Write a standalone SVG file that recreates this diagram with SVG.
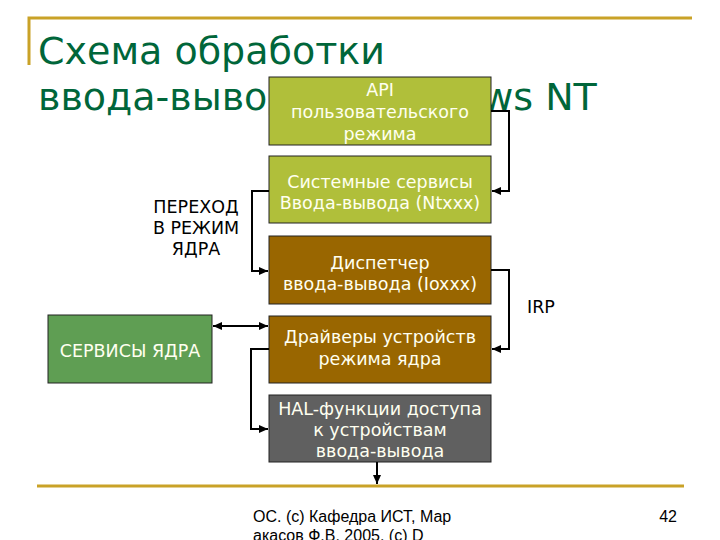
<svg xmlns="http://www.w3.org/2000/svg" width="720" height="540" viewBox="0 0 720 540">
<defs>
<marker id="arr" markerWidth="9" markerHeight="8" refX="9" refY="4" orient="auto" markerUnits="userSpaceOnUse">
<path d="M0,0 L9,4 L0,8 Z" fill="#000"/>
</marker>
<marker id="arrs" markerWidth="9" markerHeight="8" refX="0" refY="4" orient="auto" markerUnits="userSpaceOnUse">
<path d="M9,0 L0,4 L9,8 Z" fill="#000"/>
</marker>
</defs>
<style>
.gold{stroke:#c9a227;stroke-width:3;fill:none}
.title{font-family:"DejaVu Sans",sans-serif;font-size:38px;fill:#00663a}
.box{stroke:#222;stroke-width:1}
.bt{font-family:"DejaVu Sans",sans-serif;font-size:17.5px;fill:#fffff0;text-anchor:middle}
.lbl{font-family:"DejaVu Sans",sans-serif;font-size:17.5px;fill:#000}
.foot{font-family:"Liberation Sans",Arial,sans-serif;font-size:16px;fill:#000}
.con{stroke:#000;stroke-width:2;fill:none}
</style>
<rect width="720" height="540" fill="#fff"/>
<path class="gold" d="M29,65 V18 H692"/>
<line class="gold" x1="37" y1="486" x2="684" y2="486"/>
<text class="title" x="38" y="64">Схема обработки</text>
<text class="title" x="38" y="110">ввода-вывода в Windows NT</text>

<g id="api"><rect class="box" x="269" y="77" width="222" height="68" fill="#b0bf3a"/>
<text class="bt" x="380" y="96">API</text><text class="bt" x="380" y="118">пользовательского</text><text class="bt" x="380" y="140">режима</text></g>
<g id="sys"><rect class="box" x="269" y="156" width="222" height="67" fill="#b0bf3a"/>
<text class="bt" x="380" y="188">Системные сервисы</text><text class="bt" x="380" y="209">Ввода-вывода (Ntxxx)</text></g>
<g id="disp"><rect class="box" x="269" y="236" width="222" height="68" fill="#996600"/>
<text class="bt" x="380" y="269">Диспетчер</text><text class="bt" x="380" y="290">ввода-вывода (Ioxxx)</text></g>
<g id="drv"><rect class="box" x="269" y="316" width="222" height="67" fill="#996600"/>
<text class="bt" x="380" y="343">Драйверы устройств</text><text class="bt" x="380" y="365">режима ядра</text></g>
<g id="hal"><rect class="box" x="269" y="395" width="222" height="67" fill="#606060"/>
<text class="bt" x="380" y="415">HAL-функции доступа</text><text class="bt" x="380" y="436">к устройствам</text><text class="bt" x="380" y="457">ввода-вывода</text></g>
<g id="kern"><rect class="box" x="48" y="315" width="164" height="68" fill="#5f9e53"/>
<text class="bt" x="130" y="357">СЕРВИСЫ ЯДРА</text></g>

<g id="connectors">
<path class="con" d="M491,111 H509 V191 H492" marker-end="url(#arr)"/>
<path class="con" d="M269,191 H252 V271 H268" marker-end="url(#arr)"/>
<path class="con" d="M491,270 H509 V349 H492" marker-end="url(#arr)"/>
<path class="con" d="M213,326 H268" marker-start="url(#arrs)" marker-end="url(#arr)"/>
<path class="con" d="M269,349 H251 V429 H268" marker-end="url(#arr)"/>
<path class="con" d="M377,462 V484" marker-end="url(#arr)"/>
</g>

<g id="labels">
<text class="lbl" x="196" y="213" text-anchor="middle">ПЕРЕХОД</text>
<text class="lbl" x="196" y="234" text-anchor="middle">В РЕЖИМ</text>
<text class="lbl" x="196" y="255" text-anchor="middle">ЯДРА</text>
<text class="lbl" x="527" y="313">IRP</text>
</g>
<text class="foot" x="253" y="522">ОС. (с) Кафедра ИСТ, Мар</text>
<text class="foot" x="253" y="541">акасов Ф.В. 2005. (с) D</text>
<text class="foot" x="677" y="522" text-anchor="end">42</text>
</svg>
